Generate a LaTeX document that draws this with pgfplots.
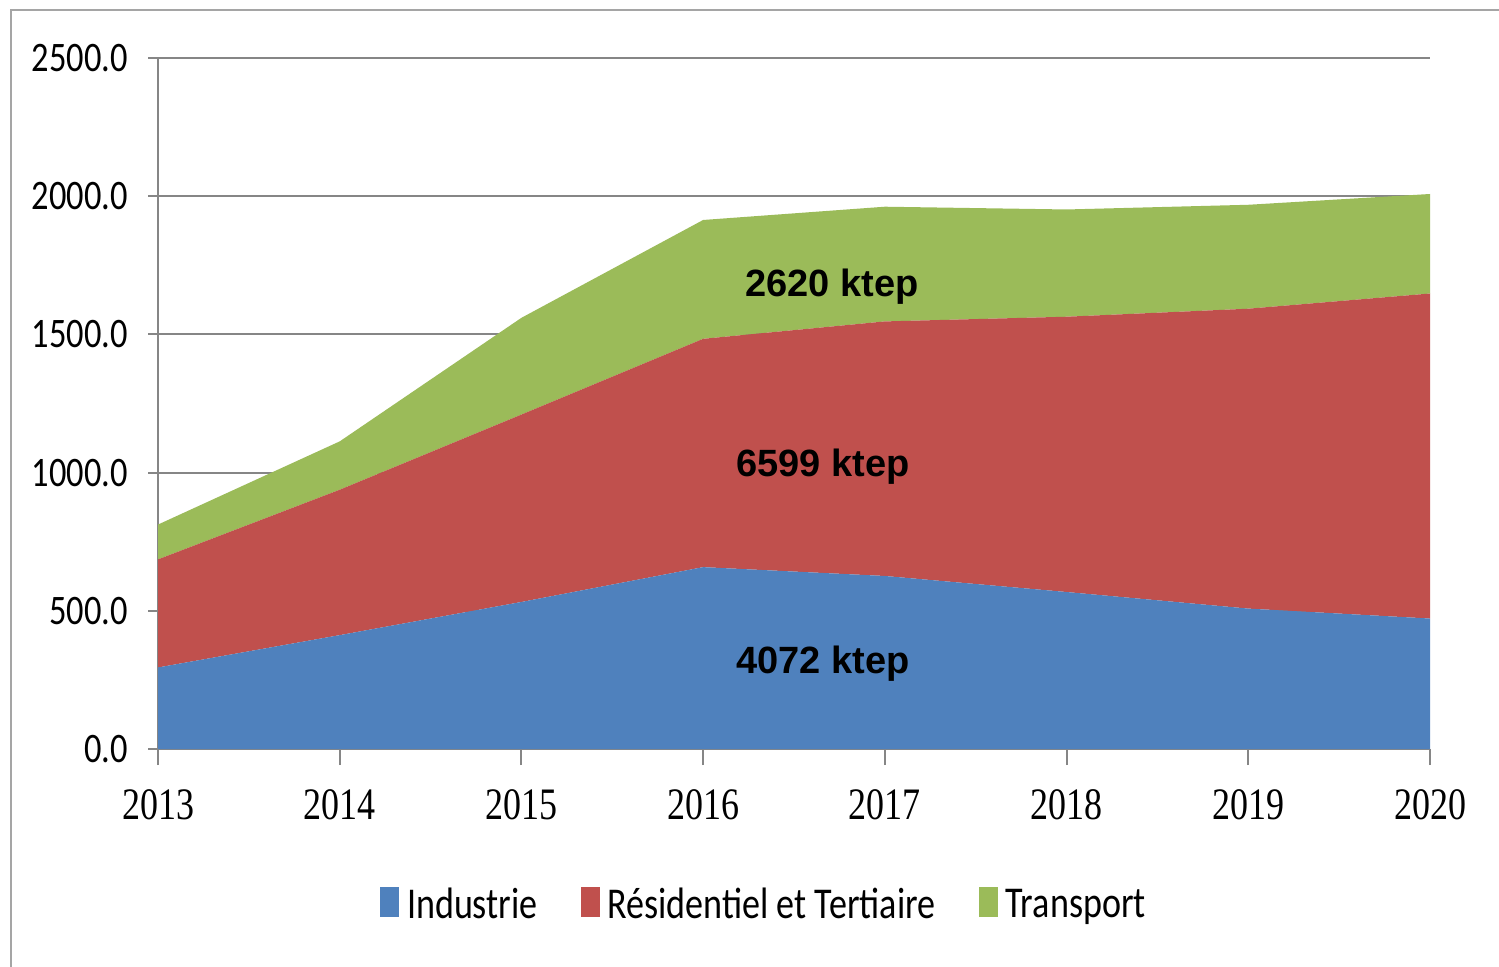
\documentclass[border=0pt]{standalone}
\usepackage{fontspec}
\usepackage{pgfplots}
\pgfplotsset{compat=1.18}
\setmainfont{Carlito}
\newfontfamily\tickfont[FakeStretch=0.82]{Carlito}
\newfontfamily\yearfont[FakeStretch=0.8]{Liberation Serif}
\newfontfamily\legfont[FakeStretch=0.82]{Carlito}
\newfontfamily\labfont{Liberation Sans}
\definecolor{cblue}{RGB}{79,129,189}
\definecolor{cred}{RGB}{192,80,77}
\definecolor{cgreen}{RGB}{155,187,89}
\definecolor{gridgray}{RGB}{134,134,134}
\definecolor{framegray}{RGB}{165,165,165}
\begin{document}
\begin{tikzpicture}
\useasboundingbox (0,0) rectangle (749.5pt,483pt);
\draw[framegray, line width=1pt] (5.5pt,-2pt) -- (5.5pt,478pt) -- (752pt,478pt);
\begin{axis}[
  at={(79pt,108.5pt)}, anchor=south west,
  scale only axis, width=636pt, height=345.5pt,
  xmin=2013, xmax=2020, ymin=0, ymax=2500,
  xtick={2013,2014,2015,2016,2017,2018,2019,2020},
  xticklabels={2013,2014,2015,2016,2017,2018,2019,2020},
  ytick={0,500,1000,1500,2000,2500},
  yticklabels={0.0,500.0,1000.0,1500.0,2000.0,2500.0},
  axis x line*=bottom, axis y line*=left,
  axis line style={draw=gridgray, line width=1pt},
  ymajorgrids, major grid style={draw=gridgray, line width=1pt},
  tick style={draw=gridgray, line width=1pt},
  tick align=outside,
  major tick length=5pt,
  xtick style={/pgfplots/major tick length=8pt},
  yticklabel style={font=\tickfont\fontsize{21}{21}\selectfont, xshift=-6.5pt},
  xticklabel style={font=\yearfont\fontsize{22.5}{22.5}\selectfont, yshift=-11.5pt},
  stack plots=y,
  legend columns=3,
  legend image code/.code={\fill[#1] (0pt,-6pt) rectangle (9.5pt,9pt);},
  legend style={at={(0.4787,-0.2243)}, anchor=center, draw=none, fill=none,
    font=\legfont\fontsize{22}{22}\selectfont,
    nodes={inner xsep=4pt, inner ysep=0pt},
    /tikz/every even column/.append style={column sep=17.5pt}},
  after end axis/.code={
    \node[text=black, font=\labfont\bfseries\fontsize{19}{19}\selectfont] at (axis cs:2016.71,1672) {2620 ktep};
    \node[text=black, font=\labfont\bfseries\fontsize{19}{19}\selectfont] at (axis cs:2016.66,1021) {6599 ktep};
    \node[text=black, font=\labfont\bfseries\fontsize{19}{19}\selectfont] at (axis cs:2016.66,308) {4072 ktep};
  },
]
\addplot[fill=cblue, draw=none] coordinates {(2013,295) (2014,412) (2015,532) (2016,658) (2017,626) (2018,568) (2019,508) (2020,472)} \closedcycle;
\addlegendentry{Industrie}
\addplot[fill=cred, draw=none] coordinates {(2013,391) (2014,526) (2015,678) (2016,826) (2017,921) (2018,996) (2019,1085) (2020,1176)} \closedcycle;
\addlegendentry{Résidentiel et Tertiaire}
\addplot[fill=cgreen, draw=none] coordinates {(2013,126) (2014,175) (2015,350) (2016,430) (2017,415) (2018,388) (2019,376) (2020,360)} \closedcycle;
\addlegendentry{Transport}
\end{axis}
\end{tikzpicture}
\end{document}
